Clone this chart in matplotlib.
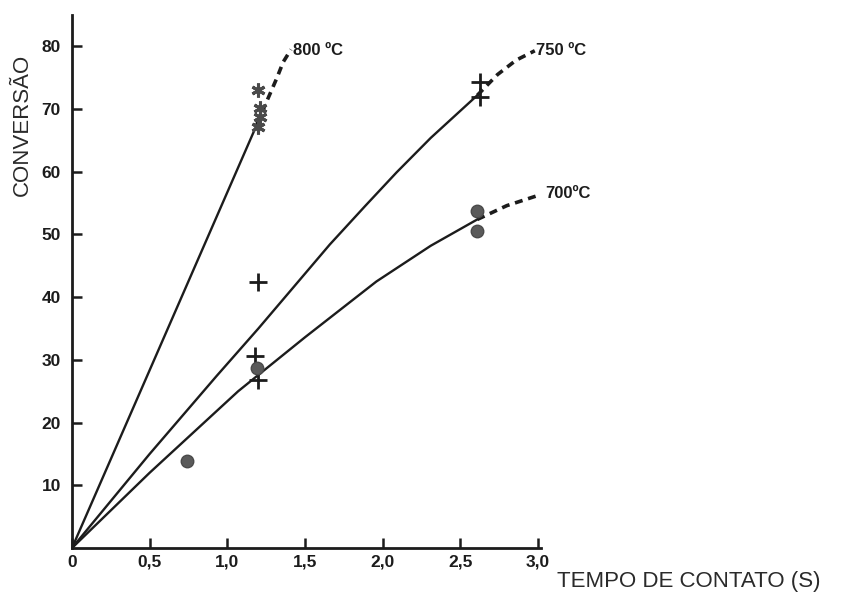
import matplotlib
matplotlib.use("Agg")
import matplotlib.pyplot as plt

# curve read-offs (tempo de contato, conversao)
t800 = [0.0, 1.19]
c800 = [0.0, 67.5]
t800_ext = [1.19, 1.25, 1.32, 1.36, 1.41]
c800_ext = [67.5, 71.0, 75.0, 77.5, 79.5]

t750 = [0.0, 0.5, 0.93, 1.2, 1.66, 1.89, 2.09, 2.31, 2.61]
c750 = [0.0, 15.0, 27.4, 35.0, 48.4, 54.6, 59.9, 65.4, 72.2]
t750_ext = [2.61, 2.74, 2.86, 2.98]
c750_ext = [72.2, 75.5, 77.8, 79.3]

t700 = [0.0, 0.5, 1.07, 1.2, 1.5, 1.96, 2.31, 2.61]
c700 = [0.0, 12.0, 25.0, 27.6, 33.6, 42.5, 48.2, 52.4]
t700_ext = [2.61, 2.8, 3.01]
c700_ext = [52.4, 54.6, 56.3]

# experimental points
ast_t = [1.2, 1.21, 1.21, 1.2]
ast_c = [73.0, 70.2, 68.7, 67.1]
plus_t = [1.2, 1.18, 1.2, 2.63, 2.63]
plus_c = [42.4, 30.6, 26.8, 74.3, 71.9]
circ_t = [0.74, 1.19, 2.61, 2.61]
circ_c = [13.9, 28.7, 53.7, 50.6]

xticks = [0, 0.5, 1.0, 1.5, 2.0, 2.5, 3.0]
xtick_labels = ["0", "0,5", "1,0", "1,5", "2,0", "2,5", "3,0"]
yticks = [10, 20, 30, 40, 50, 60, 70, 80]

plt.rcParams["font.family"] = ["Liberation Sans", "DejaVu Sans"]
ink = "#1c1c1c"

fig = plt.figure(figsize=(8.51, 6.01), dpi=100)
ax = fig.add_axes([72 / 851, 1 - 548 / 601, (541 - 72) / 851, (548 - 15) / 601])
ax.set_xlim(0, 3.02)
ax.set_ylim(0, 85)

# solid fitted curves
ax.plot(t800, c800, color=ink, lw=1.7)
ax.plot(t750, c750, color=ink, lw=1.7)
ax.plot(t700, c700, color=ink, lw=1.7)
# dashed extrapolations
for tt, cc in [(t800_ext, c800_ext), (t750_ext, c750_ext), (t700_ext, c700_ext)]:
    ax.plot(tt, cc, color=ink, lw=2.6, ls=(0, (2.2, 1.6)), clip_on=False)

ax.plot(ast_t, ast_c, ls="none", marker=(6, 2, 0), ms=10, mew=2.2,
        color="#4a4a4a")
ax.plot(plus_t, plus_c, ls="none", marker="+", ms=13, mew=2.0, color=ink)
ax.plot(circ_t, circ_c, ls="none", marker="o", ms=9, color="#5a5a5a",
        mec="#4a4a4a")

ax.text(1.42, 79.4, "800 ºC", fontsize=12, fontweight="bold", color=ink,
        va="center", ha="left")
ax.text(2.99, 79.4, "750 ºC", fontsize=12, fontweight="bold", color=ink,
        va="center", ha="left", clip_on=False)
ax.text(3.05, 56.6, "700ºC", fontsize=12, fontweight="bold", color=ink,
        va="center", ha="left", clip_on=False)

for side in ["top", "right"]:
    ax.spines[side].set_visible(False)
for side in ["left", "bottom"]:
    ax.spines[side].set_linewidth(2.0)
    ax.spines[side].set_color(ink)

ax.set_xticks(xticks)
ax.set_xticklabels(xtick_labels)
ax.set_yticks(yticks)
ax.tick_params(direction="in", length=7, width=1.8, color=ink,
               labelsize=12.5, labelcolor=ink)
ax.tick_params(axis="y", pad=8)
ax.tick_params(axis="x", pad=5)
for lab in ax.get_xticklabels() + ax.get_yticklabels():
    lab.set_fontweight("bold")

fig.text(22 / 851, 1 - 125 / 601, "CONVERSÃO", rotation=90, fontsize=16,
         color="#2a2a2a", ha="center", va="center")
fig.text(557 / 851, 1 - 581 / 601, "TEMPO DE CONTATO (S)", fontsize=16,
         color="#2a2a2a", ha="left", va="center")

fig.savefig("out.png", dpi=100, facecolor="white")
